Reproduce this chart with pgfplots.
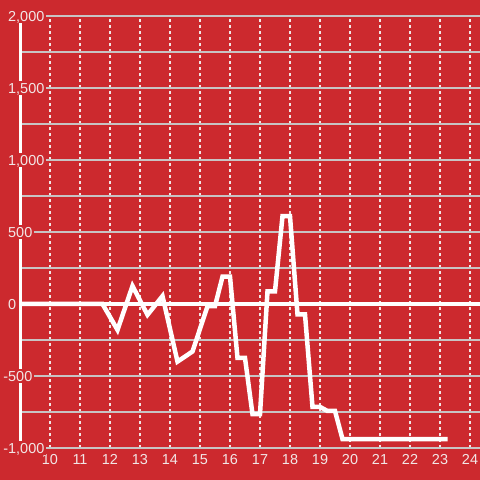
\documentclass[border=0pt]{standalone}
\usepackage{pgfplots}
\pgfplotsset{compat=1.18}
\usepackage{fontspec}
\setmainfont{Liberation Sans}
\definecolor{bgred}{RGB}{204,41,46}
\definecolor{gridgray}{RGB}{200,196,196}
\definecolor{labelc}{RGB}{242,230,230}
\begin{document}
\begin{tikzpicture}
\begin{axis}[
    at={(20bp,32bp)}, anchor=south west,
    scale only axis, width=460bp, height=432bp,
    xmin=9, xmax=24.3333, ymin=-1000, ymax=2000,
    set layers, clip=false,
    axis x line*=bottom, axis y line*=left,
    x axis line style={draw=none},
    y axis line style={draw=white, line width=3bp, -},
    major tick length=0pt, minor tick length=0pt,
    xtick={10,...,24},
    ytick={-1000,-500,...,2000},
    yticklabels={{\llap{-}1,000},{\llap{-}500},0,500,{1,000},{1,500},{2,000}},
    minor ytick={-750,-250,...,1750},
    xmajorgrids, ymajorgrids, yminorgrids,
    major y grid style={gridgray, line width=1.2bp},
    minor y grid style={gridgray, line width=1.2bp},
    major x grid style={labelc, dash pattern=on 3bp off 3bp, line width=1.2bp},
    /pgf/number format/assume math mode=true,
    tick label style={font=\fontsize{14.5}{16}\selectfont, text=labelc},
    yticklabel style={anchor=west, xshift=-14bp, fill=bgred, inner xsep=2bp, inner ysep=2bp, text height=10.4bp, text depth=0bp},
    xticklabel style={yshift=-3bp, inner xsep=0pt},
]
% page background, on the lowest layer
\begin{pgfonlayer}{axis background}
  \fill[bgred] ([shift={(-20bp,-32bp)}]rel axis cs:0,0) rectangle ++(480bp,480bp);
\end{pgfonlayer}
% thick zero line
\begin{pgfonlayer}{axis lines}
  \draw[white, line width=4bp] (axis cs:9,0) -- (axis cs:24.3333,0);
\end{pgfonlayer}
\addplot[white, line width=4.5bp] coordinates {
    (9,0) (11.75,0) (12.25,-180) (12.75,125) (13.25,-75) (13.75,55)
    (14.25,-400) (14.75,-330) (15.25,-15) (15.5,-15) (15.75,190) (16,190)
    (16.25,-375) (16.5,-375) (16.75,-765) (17,-765) (17.25,88) (17.5,88)
    (17.75,610) (18,610) (18.25,-72) (18.5,-72) (18.75,-715) (19,-715)
    (19.25,-743) (19.5,-743) (19.75,-938) (23.25,-938)};
\end{axis}
\pgfresetboundingbox
\useasboundingbox (0,0) rectangle (480bp,480bp);
\end{tikzpicture}
\end{document}
